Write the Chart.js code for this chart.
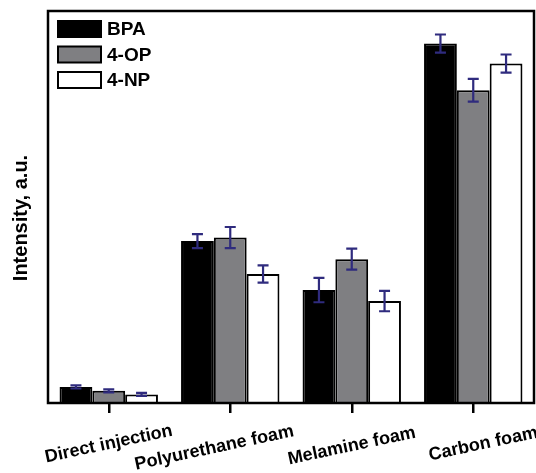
<!DOCTYPE html>
<html>
<head>
<meta charset="utf-8">
<style>
  html, body { margin: 0; padding: 0; background: #fff; }
  canvas { display: block; }
</style>
<script src="https://cdn.jsdelivr.net/npm/chart.js@4.4.0/dist/chart.umd.min.js"></script>
</head>
<body>
<canvas id="chart" width="536" height="473"></canvas>
<script>
const categories = ['Direct injection', 'Polyurethane foam', 'Melamine foam', 'Carbon foam'];
const seriesNames = ['BPA', '4-OP', '4-NP'];

const bpa = [4.1, 41.3, 28.8, 91.7];
const op = [3.1, 42.2, 36.7, 79.8];
const np = [2.2, 32.9, 26.0, 86.6];

const bpaErr = [0.4, 1.8, 3.1, 2.3];
const opErr = [0.4, 2.7, 2.7, 2.9];
const npErr = [0.4, 2.2, 2.6, 2.3];

const yTitle = 'Intensity, a.u.';

const FONT = '"Liberation Sans", Arial, sans-serif';
const ERR_COLOR = '#2f2b7e';

// label nudges along the category axis (px)
const labelShift = [[0, 0], [-16, 4], [0, 2], [10, 0]];

const errorBars = {
  id: 'errorBars',
  afterDatasetsDraw(chart) {
    const { ctx, scales: { y } } = chart;
    ctx.save();
    ctx.strokeStyle = ERR_COLOR;
    ctx.lineWidth = 2.2;
    chart.data.datasets.forEach((ds, di) => {
      const meta = chart.getDatasetMeta(di);
      meta.data.forEach((bar, i) => {
        const v = ds.data[i], e = ds.errors[i];
        const top = y.getPixelForValue(v + e);
        const bot = y.getPixelForValue(v - e);
        ctx.beginPath();
        ctx.moveTo(bar.x, top); ctx.lineTo(bar.x, bot);
        ctx.moveTo(bar.x - 5.5, top); ctx.lineTo(bar.x + 5.5, top);
        ctx.moveTo(bar.x - 5.5, bot); ctx.lineTo(bar.x + 5.5, bot);
        ctx.stroke();
      });
    });
    ctx.restore();
  }
};

const frameAndText = {
  id: 'frameAndText',
  afterDraw(chart) {
    const { ctx, chartArea: a, scales: { x } } = chart;
    ctx.save();
    // box around the plot
    ctx.strokeStyle = '#000';
    ctx.lineWidth = 2.5;
    ctx.strokeRect(a.left, a.top, a.right - a.left, a.bottom - a.top);

    // legend
    ctx.font = 'bold 19px ' + FONT;
    ctx.textBaseline = 'middle';
    ctx.textAlign = 'left';
    chart.data.datasets.forEach((ds, i) => {
      const bx = a.left + 10, by = a.top + 10 + i * 25.5;
      ctx.fillStyle = ds.backgroundColor;
      ctx.fillRect(bx, by, 43, 16);
      ctx.lineWidth = 2;
      ctx.strokeRect(bx, by, 43, 16);
      ctx.fillStyle = '#000';
      ctx.fillText(ds.label, bx + 49, by + 9);
    });

    // category labels, tilted
    ctx.font = 'bold 18px ' + FONT;
    ctx.textAlign = 'center';
    categories.forEach((c, i) => {
      const px = x.getPixelForTick(i) + labelShift[i][0];
      const py = a.bottom + 41 + labelShift[i][1];
      ctx.save();
      ctx.translate(px, py);
      ctx.rotate(-12 * Math.PI / 180);
      ctx.fillText(c, 0, 0);
      ctx.restore();
    });

    // y axis title
    ctx.save();
    ctx.translate(21, 218);
    ctx.rotate(-Math.PI / 2);
    ctx.font = 'bold 20px ' + FONT;
    ctx.fillText(yTitle, 0, 0);
    ctx.restore();
    ctx.restore();
  }
};

const fills = ['#000000', '#7f7f82', '#ffffff'];
const values = [bpa, op, np];
const errs = [bpaErr, opErr, npErr];

new Chart(document.getElementById('chart'), {
  type: 'bar',
  data: {
    labels: categories,
    datasets: seriesNames.map((name, i) => ({
      label: name,
      data: values[i],
      errors: errs[i],
      backgroundColor: fills[i],
      borderColor: '#000',
      borderWidth: 2,
      categoryPercentage: 0.81,
      barPercentage: 1.0
    }))
  },
  options: {
    responsive: false,
    animation: false,
    layout: { padding: { left: 48, top: 11, right: 2, bottom: 60 } },
    plugins: { legend: { display: false }, tooltip: { enabled: false } },
    scales: {
      x: {
        ticks: { display: false },
        border: { display: false },
        grid: {
          offset: false,
          drawOnChartArea: false,
          drawTicks: true,
          tickLength: 10,
          lineWidth: 2.5,
          color: '#000'
        }
      },
      y: { display: false, min: 0, max: 100 }
    }
  },
  plugins: [errorBars, frameAndText]
});
</script>
</body>
</html>
